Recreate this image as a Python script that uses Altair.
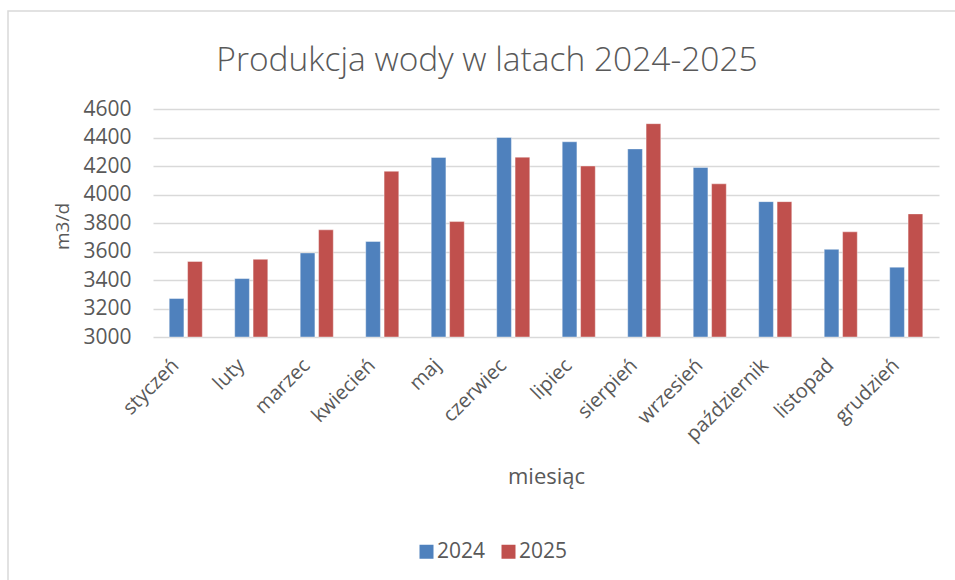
import altair as alt
import pandas as pd

months = ["styczeń", "luty", "marzec", "kwiecień", "maj", "czerwiec", "lipiec",
          "sierpień", "wrzesień", "październik", "listopad", "grudzień"]
v2024 = [3270, 3410, 3590, 3670, 4260, 4400, 4370, 4320, 4190, 3950, 3615, 3490]
v2025 = [3530, 3545, 3752, 4163, 3810, 4262, 4200, 4497, 4075, 3950, 3738, 3864]
years = ["2024", "2025"]
colors = ["#4F81BD", "#C0504D"]

rows = []
for m, a, b in zip(months, v2024, v2025):
    rows.append({"miesiąc": m, "rok": "2024", "wartość": a})
    rows.append({"miesiąc": m, "rok": "2025", "wartość": b})
df = pd.DataFrame(rows)

FONT = "Open Sans"
GREY = "#595959"

bars = alt.Chart(df).mark_bar(stroke="#ffffff", strokeOpacity=0.5, strokeWidth=0.8).encode(
    x=alt.X("miesiąc:N", sort=months,
            scale=alt.Scale(paddingInner=0.495, paddingOuter=0.2475),
            axis=alt.Axis(title="miesiąc", labelAngle=-45, labelAlign="right",
                          labelBaseline="middle", labelFontSize=20, labelColor=GREY,
                          labelFont=FONT, labelPadding=25, labelOffset=-10,
                          ticks=False, domain=False,
                          titleFont=FONT, titleFontSize=22, titleColor=GREY,
                          titleFontWeight="normal", titlePadding=22)),
    xOffset=alt.XOffset("rok:N", scale=alt.Scale(paddingInner=0.2)),
    y=alt.Y("wartość:Q", scale=alt.Scale(domain=[3000, 4600], nice=False, zero=False, clamp=True),
            axis=alt.Axis(title="m3/d", values=list(range(3000, 4601, 200)), format="d",
                          labelFontSize=21, labelColor=GREY, labelFont=FONT,
                          labelPadding=22, ticks=False, domain=False,
                          gridColor="#d9d9d9", gridWidth=1.4,
                          titleFont=FONT, titleFontSize=19, titleColor=GREY,
                          titleFontWeight="normal", titleX=-91, titleY=117,
                          titleAngle=-90, titleAlign="center", titleBaseline="middle")),
    color=alt.Color("rok:N", scale=alt.Scale(domain=years, range=colors),
                    legend=alt.Legend(title=None, orient="none", direction="horizontal",
                                      legendX=263, legendY=432, symbolType="square",
                                      symbolSize=196, symbolStrokeWidth=0,
                                      labelFontSize=21, labelColor=GREY, labelFont=FONT,
                                      columnPadding=12, labelOffset=0)),
)

border = alt.Chart(pd.DataFrame({"k": [0]})).mark_rect(
    fill=None, stroke="#d9d9d9", strokeWidth=1.5).encode(
    x=alt.value(-145), x2=alt.value(815), y=alt.value(-98), y2=alt.value(485))

chart = alt.layer(border, bars).properties(
    width=786, height=228,
    background="white",
    title=alt.TitleParams("Produkcja wody w latach 2024-2025", font=FONT, fontSize=33.5,
                          fontWeight=300, color=GREY, anchor="middle", dx=-59, offset=0,
                          baseline="alphabetic", dy=94),
    autosize=alt.AutoSizeParams(type="none"),
    padding={"left": 153, "top": 109, "right": 16, "bottom": 243},
).configure_view(stroke=None)

chart.save("out.html", embed_options={"renderer": "svg", "actions": False})
